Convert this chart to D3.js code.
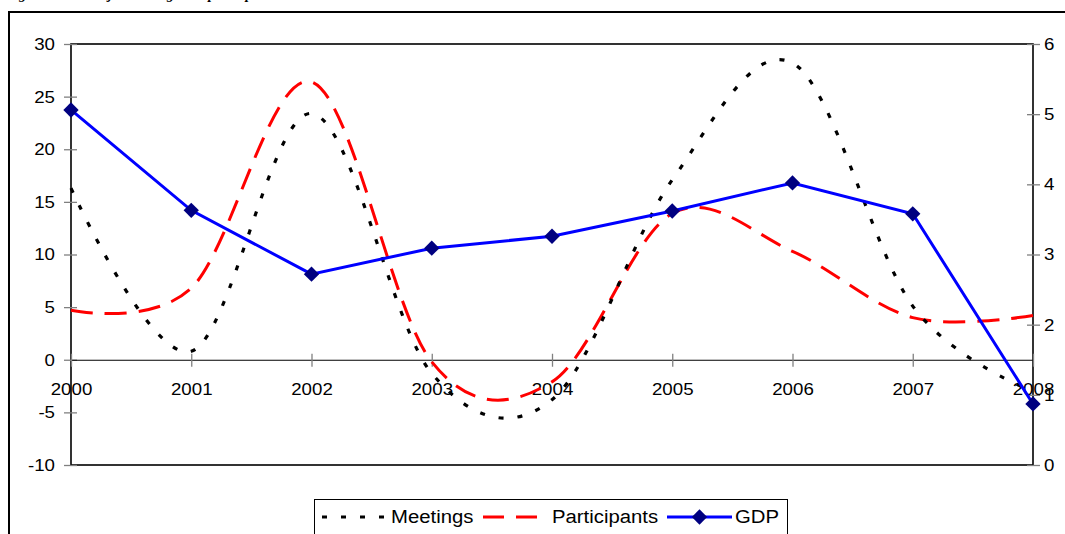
<!DOCTYPE html>
<html>
<head>
<meta charset="utf-8">
<script src="https://cdn.jsdelivr.net/npm/d3@7/dist/d3.min.js"></script>
<style>
  html, body { margin: 0; padding: 0; background: #fff; }
  svg { display: block; }
</style>
</head>
<body>
<svg id="chart" width="1065" height="534"></svg>
<script>
// --- data ---
const years = [2000, 2001, 2002, 2003, 2004, 2005, 2006, 2007, 2008];
const meetings = [16.3, 0.8, 23.4, -1.3, -3.8, 17.1, 28.2, 5.1, -3.0];
const participants = [4.7, 6.8, 26.4, -0.2, -2.1, 13.9, 10.3, 4.0, 4.2];
const gdp = [5.06, 3.63, 2.72, 3.09, 3.26, 3.62, 4.02, 3.58, 0.87];
const leftTicks = [-10, -5, 0, 5, 10, 15, 20, 25, 30];
const rightTicks = [0, 1, 2, 3, 4, 5, 6];
const seriesNames = ["Meetings", "Participants", "GDP"];

const svg = d3.select("#chart");
const FONT = "'Liberation Sans', Arial, sans-serif";

// plot area
const L = 71, R = 1033, T = 44, B = 465;

const x = d3.scalePoint().domain(years).range([L, R]);
const yL = d3.scaleLinear().domain([-10, 30]).range([B, T]);
const yR = d3.scaleLinear().domain([0, 6]).range([B, T]);

// plain hyphen minus, no decimals
const fmt = d => String(d);

// stretch text horizontally a little (the source picture is widened)
function stretch(sel, s) {
  sel.each(function () {
    const t = d3.select(this);
    const xx = +t.attr("x") || 0;
    t.attr("x", xx / s).attr("transform", `scale(${s},1)`);
  });
}

// outer frame + cut-off title
svg.append("text")
  .attr("x", 6).attr("y", -1.5)
  .style("font-family", "'Liberation Serif', 'Times New Roman', serif")
  .style("font-weight", "bold").style("font-style", "italic")
  .style("font-size", "14px")
  .text("Figure 4: The major meetings and participants");

svg.append("path")
  .attr("d", "M9,540 V12 H1070")
  .attr("fill", "none").attr("stroke", "#000").attr("stroke-width", 2);

// plot border
svg.append("rect")
  .attr("x", L).attr("y", T).attr("width", R - L).attr("height", B - T)
  .attr("fill", "none").attr("stroke", "#000").attr("stroke-width", 1.6);

// --- left axis ---
const gL = svg.append("g").attr("transform", `translate(${L},0)`)
  .call(d3.axisLeft(yL).tickValues(leftTicks).tickFormat(fmt).tickSize(7).tickPadding(9).tickSizeOuter(0));
gL.select(".domain").remove();
gL.selectAll(".tick line").attr("x2", -7).attr("x1", 6).attr("stroke", "#808080").attr("stroke-width", 1.3);
gL.selectAll(".tick text").style("font-family", FONT).style("font-size", "17px").attr("fill", "#000");
stretch(gL.selectAll(".tick text"), 1.1);

// --- right axis ---
const gR = svg.append("g").attr("transform", `translate(${R},0)`)
  .call(d3.axisRight(yR).tickValues(rightTicks).tickFormat(fmt).tickSize(7).tickPadding(4).tickSizeOuter(0));
gR.select(".domain").remove();
gR.selectAll(".tick line").attr("x1", -6).attr("x2", 7).attr("stroke", "#808080").attr("stroke-width", 1.3);
gR.selectAll(".tick text").style("font-family", FONT).style("font-size", "17px").attr("fill", "#000");
stretch(gR.selectAll(".tick text"), 1.1);

// --- category axis, crossing at 0 ---
const gX = svg.append("g").attr("transform", `translate(0,${yL(0)})`)
  .call(d3.axisBottom(x).tickSize(7).tickSizeOuter(0));
gX.select(".domain").attr("stroke", "#000").attr("stroke-width", 1.2);
gX.selectAll(".tick line").attr("y1", -6).attr("y2", 7).attr("stroke", "#808080").attr("stroke-width", 1.3);
gX.selectAll(".tick text")
  .attr("y", 35).attr("dy", 0)
  .style("font-family", FONT).style("font-size", "17px").attr("fill", "#000");
stretch(gX.selectAll(".tick text"), 1.1);

// --- series ---
const smooth = d3.curveCatmullRom.alpha(0);

const lineMeet = d3.line().x((d, i) => x(years[i])).y(d => yL(d)).curve(smooth);
const linePart = d3.line().x((d, i) => x(years[i])).y(d => yL(d)).curve(smooth);
const lineGdp = d3.line().x((d, i) => x(years[i])).y(d => yR(d));

svg.append("path").datum(participants)
  .attr("d", linePart)
  .attr("fill", "none").attr("stroke", "#FF0000").attr("stroke-width", 3)
  .attr("stroke-dasharray", "22,12");

svg.append("path").datum(meetings)
  .attr("d", lineMeet)
  .attr("fill", "none").attr("stroke", "#000").attr("stroke-width", 3.2)
  .attr("stroke-dasharray", "5,14");

svg.append("path").datum(gdp)
  .attr("d", lineGdp)
  .attr("fill", "none").attr("stroke", "#0000FF").attr("stroke-width", 3);

const diamond = d3.symbol().type(d3.symbolDiamond2).size(150);
svg.selectAll(".gdp-pt")
  .data(gdp)
  .enter()
  .append("path")
  .attr("class", "gdp-pt")
  .attr("d", diamond)
  .attr("transform", (d, i) => `translate(${x(years[i])},${yR(d)})`)
  .attr("fill", "#000080");

// --- legend ---
const lg = svg.append("g");
lg.append("rect")
  .attr("x", 314.5).attr("y", 499.5).attr("width", 473).attr("height", 60)
  .attr("fill", "#fff").attr("stroke", "#000").attr("stroke-width", 1);

const ly = 517;
const legendItems = [
  { name: seriesNames[0], x1: 322, x2: 386, tx: 391, stroke: "#000", dash: "5,14", w: 3.2 },
  { name: seriesNames[1], x1: 483, x2: 538, tx: 552, stroke: "#FF0000", dash: "21,12", w: 3 },
  { name: seriesNames[2], x1: 667, x2: 732, tx: 735, stroke: "#0000FF", dash: null, w: 3 }
];

legendItems.forEach(it => {
  lg.append("line")
    .attr("x1", it.x1).attr("x2", it.x2).attr("y1", ly).attr("y2", ly)
    .attr("stroke", it.stroke).attr("stroke-width", it.w)
    .attr("stroke-dasharray", it.dash);
  const t = lg.append("text")
    .attr("x", it.tx).attr("y", 523)
    .style("font-family", FONT).style("font-size", "19px")
    .text(it.name);
  stretch(t, 1.07);
});

lg.append("path")
  .attr("d", diamond)
  .attr("transform", `translate(699.5,${ly})`)
  .attr("fill", "#000080");
</script>
</body>
</html>
